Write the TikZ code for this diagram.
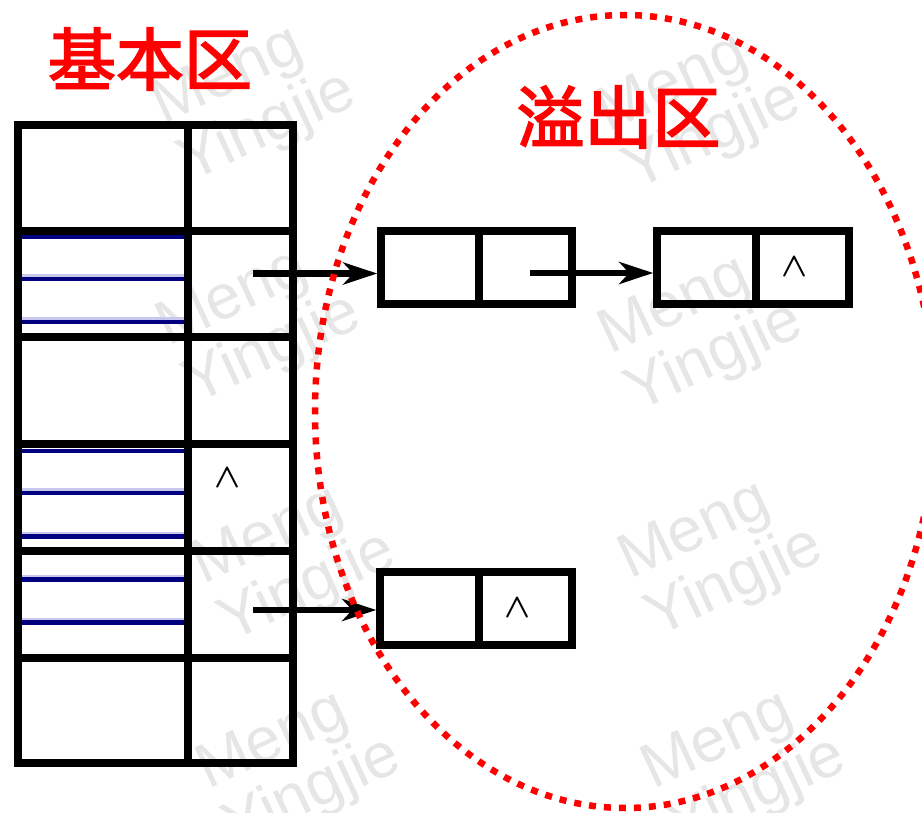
\documentclass[tikz,border=0pt]{standalone}
\usepackage{fontspec}
\usetikzlibrary{arrows.meta}
\newfontfamily\cjkfont[FakeBold=2.6]{Noto Sans CJK SC}
\newfontfamily\wmfont{Liberation Sans}
\definecolor{navy}{HTML}{000080}
\definecolor{halo}{HTML}{C8C8EC}
\definecolor{wmgray}{HTML}{E6E6E6}
\tikzset{
  wm/.style={rotate=25, text=wmgray, font=\wmfont\fontsize{63}{64}\selectfont, align=left, inner sep=0pt},
  cell/.style={draw, line width=8pt, rectangle, inner sep=0pt, minimum width=#1},
  lbox/.style={draw, line width=7.5pt, rectangle, inner sep=0pt, minimum height=73pt, minimum width=#1},
  hat/.style={font=\boldmath, scale=3.4, inner sep=0pt},
  arr/.style={line width=6.5pt, -{Stealth[length=34pt, width=22pt, inset=10pt]}},
  title/.style={text=red, font=\cjkfont\fontsize{68}{68}\selectfont, inner sep=0pt},
  ell/.style={draw=red, line width=6.5pt, dash pattern=on 7pt off 8pt}
}
\begin{document}
\begin{tikzpicture}[x=1pt,y=-1pt]
\useasboundingbox (0,0) rectangle (922,813);
\clip (0,0) rectangle (922,813);
% watermarks
\foreach \x/\y [count=\i] in {255/100, 700/108, 260/322, 702/330, 295/560, 722/555, 300/765, 745/765}
  \node[wm] (wm\i) at (\x,\y) {Meng\\Yingjie};
% stripes
\foreach \y in {279, 322, 493, 536.5, 579.5, 622.5} {
  \draw[halo, line width=3pt] (22,\y-3.5) -- (184,\y-3.5);
  \draw[navy, line width=4.5pt] (22,\y) -- (184,\y);
}
\foreach \y in {237, 450.5}
  \draw[navy, line width=4pt] (22,\y) -- (184,\y);
% table cells
\foreach \r/\yc/\h in {1/178/106, 2/284/106, 3/390.5/107, 4/497.5/107, 5/604.5/107, 6/710.5/105} {
  \node[cell=170pt, minimum height=\h pt] (L\r) at (103,\yc) {};
  \node[cell=105pt, minimum height=\h pt] (R\r) at (240.5,\yc) {};
}
\node[hat] (h1) at (228,478) {$\wedge$};
% overflow boxes
\node[lbox=98pt] (b1l) at (430,267.5) {};
\node[lbox=93pt] (b1r) at (525.5,267.5) {};
\node[lbox=99pt] (b2l) at (706.5,267.5) {};
\node[lbox=93pt] (b2r) at (802.5,267.5) {};
\node[lbox=99pt] (b3l) at (429.5,608.5) {};
\node[lbox=93pt] (b3r) at (525.5,608.5) {};
\node[hat] (h2) at (795,267) {$\wedge$};
\node[hat] (h3) at (518,608) {$\wedge$};
% arrows
\coordinate (s1) at (253,273.5);
\coordinate (s2) at (530,273);
\coordinate (s3) at (253,610);
\draw[arr] (s1) -- (s1 -| b1l.west);
\draw[arr] (s2) -- (s2 -| b2l.west);
\draw[arr] (s3) -- (s3 -| b3l.west);
% titles
\node[title] (t1) at (150,59) {基本区};
\node[title] (t2) at (618.5,117) {溢出区};
% overflow area
\path[ell] (625,411.5) ellipse [x radius=310pt, y radius=396.5pt];
\end{tikzpicture}
\end{document}
